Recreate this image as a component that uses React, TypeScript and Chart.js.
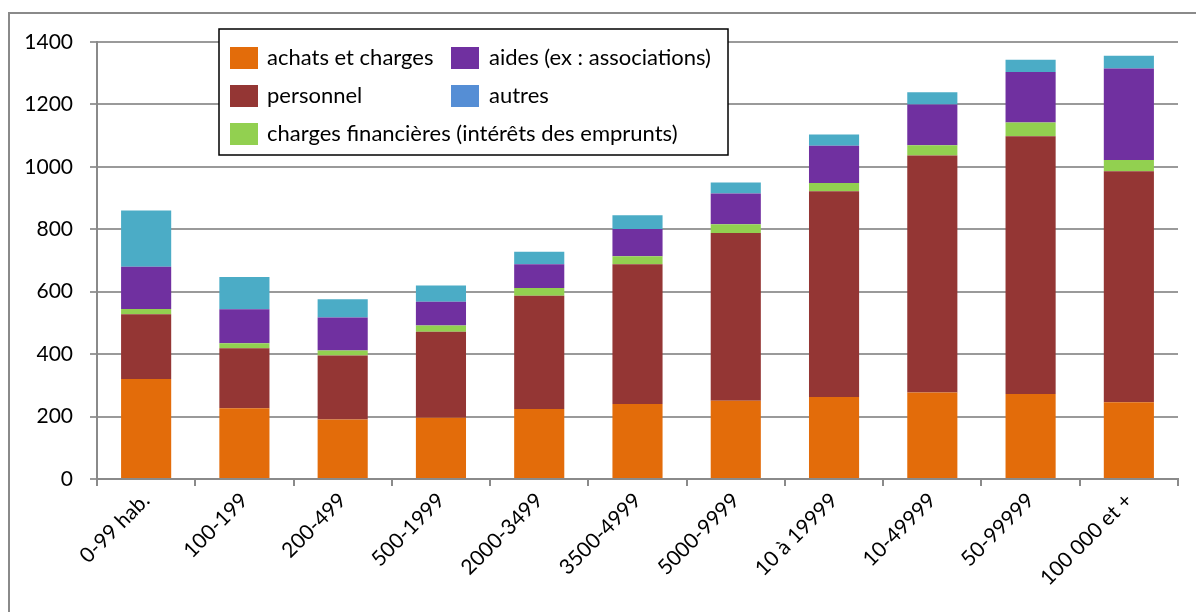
import React, { useEffect, useRef } from "react";
import { Chart, registerables } from "chart.js";

Chart.register(...registerables);

const categories = [
  "0-99 hab.",
  "100-199",
  "200-499",
  "500-1999",
  "2000-3499",
  "3500-4999",
  "5000-9999",
  "10 à 19999",
  "10-49999",
  "50-99999",
  "100 000 et +",
];

const achats = [320, 227, 191, 196, 224, 240, 251, 263, 277, 272, 246];
const personnel = [208, 192, 205, 276, 363, 448, 537, 659, 759, 826, 740];
const financieres = [17, 16, 16, 20, 25, 26, 28, 26, 33, 44, 36];
const aides = [135, 109, 105, 76, 76, 87, 99, 120, 131, 162, 293];
const autres = [180, 103, 59, 52, 40, 44, 35, 36, 39, 39, 41];

const yTicks = [0, 200, 400, 600, 800, 1000, 1200, 1400];

const seriesLabels = [
  "achats et charges",
  "personnel",
  "charges financières (intérêts des emprunts)",
  "aides (ex : associations)",
  "autres",
];
const seriesColors = ["#E36C0A", "#943634", "#92D050", "#7030A0", "#4BACC6"];
const legendColors = ["#E36C0A", "#943634", "#92D050", "#7030A0", "#558ED5"];

const FONT = "Lato, 'Open Sans', sans-serif";

const framePlugin = {
  id: "frame",
  beforeDraw(chart: any) {
    const ctx = chart.ctx;
    ctx.save();
    ctx.fillStyle = "#ffffff";
    ctx.fillRect(0, 0, chart.width, chart.height);
    ctx.strokeStyle = "#8a8a8a";
    ctx.lineWidth = 2;
    ctx.beginPath();
    ctx.moveTo(9, chart.height);
    ctx.lineTo(9, 13);
    ctx.lineTo(chart.width, 13);
    ctx.stroke();
    ctx.restore();
  },
};

const boxLegendPlugin = {
  id: "boxLegend",
  afterDraw(chart: any) {
    const ctx = chart.ctx;
    ctx.save();
    ctx.fillStyle = "#ffffff";
    ctx.fillRect(219, 29, 509, 126);
    ctx.strokeStyle = "#000000";
    ctx.lineWidth = 1.5;
    ctx.strokeRect(219, 29, 509, 126);
    // dataset index -> [swatchX, swatchY, textX]
    const slots: Record<number, [number, number, number]> = {
      0: [230, 47, 267],
      3: [451, 47, 489],
      1: [230, 85, 267],
      4: [451, 85, 489],
      2: [230, 123, 267],
    };
    ctx.font = `22px ${FONT}`;
    ctx.textBaseline = "middle";
    ctx.textAlign = "left";
    chart.data.datasets.forEach((ds: any, i: number) => {
      const s = slots[i];
      if (!s) return;
      ctx.fillStyle = legendColors[i];
      ctx.fillRect(s[0], s[1], 28, 22);
      ctx.fillStyle = "#000000";
      ctx.fillText(ds.label, s[2], s[1] + 11);
    });
    ctx.restore();
  },
};

export default function App() {
  const canvasRef = useRef<HTMLCanvasElement | null>(null);

  useEffect(() => {
    if (!canvasRef.current) return;
    const values = [achats, personnel, financieres, aides, autres];
    const chart = new Chart(canvasRef.current, {
      type: "bar",
      data: {
        labels: categories,
        datasets: values.map((v, i) => ({
          label: seriesLabels[i],
          data: v,
          backgroundColor: seriesColors[i],
          borderWidth: 0,
          barPercentage: 0.51,
          categoryPercentage: 1,
        })),
      },
      options: {
        responsive: false,
        animation: false,
        layout: { padding: { left: 0, right: 18, top: 42, bottom: 0 } },
        plugins: {
          legend: { display: false },
          tooltip: { enabled: false },
        },
        scales: {
          x: {
            stacked: true,
            grid: {
              offset: true,
              drawOnChartArea: false,
              drawTicks: true,
              tickLength: 7,
              color: "#8a8a8a",
              lineWidth: 2,
            },
            border: { display: true, color: "#8a8a8a", width: 2 },
            ticks: {
              font: { family: FONT, size: 21 },
              color: "#000000",
              minRotation: 45,
              maxRotation: 45,
              autoSkip: false,
              padding: 2,
            },
            afterFit(scale: any) {
              scale.height = 133;
            },
          },
          y: {
            stacked: true,
            min: 0,
            max: 1400,
            afterBuildTicks(scale: any) {
              scale.ticks = yTicks.map((v) => ({ value: v }));
            },
            grid: {
              color: "#9a9a9a",
              lineWidth: 2,
              drawTicks: true,
              tickLength: 7,
            },
            border: { display: true, color: "#8a8a8a", width: 2 },
            ticks: {
              font: { family: FONT, size: 21 },
              color: "#000000",
              padding: 17,
              callback: (v: any) => String(v),
            },
            afterFit(scale: any) {
              scale.width = 97;
            },
          },
        },
      },
      plugins: [framePlugin, boxLegendPlugin],
    });
    return () => chart.destroy();
  }, []);

  return (
    <div style={{ position: "absolute", left: 0, top: 0, width: 1196, height: 612 }}>
      <canvas ref={canvasRef} width={1196} height={612} style={{ width: 1196, height: 612, display: "block" }} />
    </div>
  );
}
